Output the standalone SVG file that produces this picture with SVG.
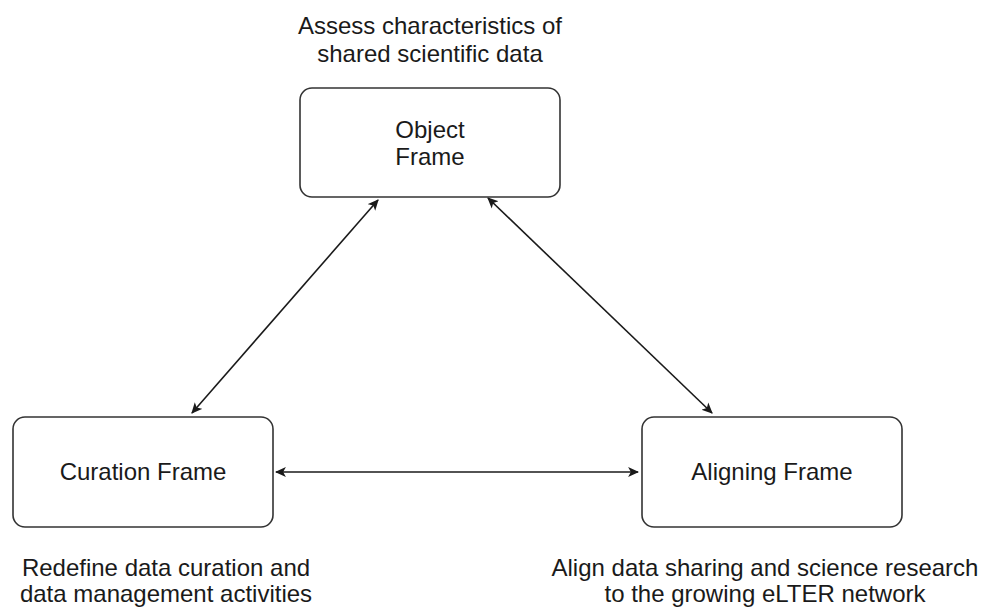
<svg xmlns="http://www.w3.org/2000/svg" width="983" height="607" viewBox="0 0 983 607">
  <style>
    .box { fill: #ffffff; stroke: #333333; stroke-width: 1.6; }
    .lbl { font-family: "Liberation Sans", Arial, Helvetica, sans-serif; font-size: 24px; fill: #1a1a1a; text-anchor: middle; }
    .conn { stroke: #1a1a1a; stroke-width: 1.6; fill: none; marker-start: url(#ah); marker-end: url(#ah); }
  </style>
  <defs>
    <marker id="ah" viewBox="0 0 10 10" refX="9" refY="5" markerWidth="11" markerHeight="11" markerUnits="userSpaceOnUse" orient="auto-start-reverse">
      <path d="M0,0.5 L10,5 L0,9.5 L2.5,5 Z" fill="#1a1a1a"/>
    </marker>
  </defs>
  <rect width="983" height="607" fill="#ffffff"/>

  <g id="connectors">
    <line class="conn" x1="378" y1="200" x2="192" y2="413"/>
    <line class="conn" x1="488" y1="198" x2="712" y2="413"/>
    <line class="conn" x1="276" y1="472" x2="638" y2="472"/>
  </g>

  <g id="object-frame">
    <rect class="box" x="300" y="88" width="260" height="109" rx="12"/>
    <text class="lbl" x="430" y="138">Object</text>
    <text class="lbl" x="430" y="165">Frame</text>
  </g>

  <g id="curation-frame">
    <rect class="box" x="13" y="417" width="260" height="110" rx="12"/>
    <text class="lbl" x="143" y="480">Curation Frame</text>
  </g>

  <g id="aligning-frame">
    <rect class="box" x="642" y="417" width="260" height="110" rx="12"/>
    <text class="lbl" x="772" y="480">Aligning Frame</text>
  </g>

  <g id="object-note">
    <text class="lbl" x="430" y="34">Assess characteristics of</text>
    <text class="lbl" x="430" y="62">shared scientific data</text>
  </g>

  <g id="curation-note">
    <text class="lbl" x="166" y="576">Redefine data curation and</text>
    <text class="lbl" x="166" y="602">data management activities</text>
  </g>

  <g id="aligning-note">
    <text class="lbl" x="765" y="576">Align data sharing and science research</text>
    <text class="lbl" x="765" y="602">to the growing eLTER network</text>
  </g>
</svg>
